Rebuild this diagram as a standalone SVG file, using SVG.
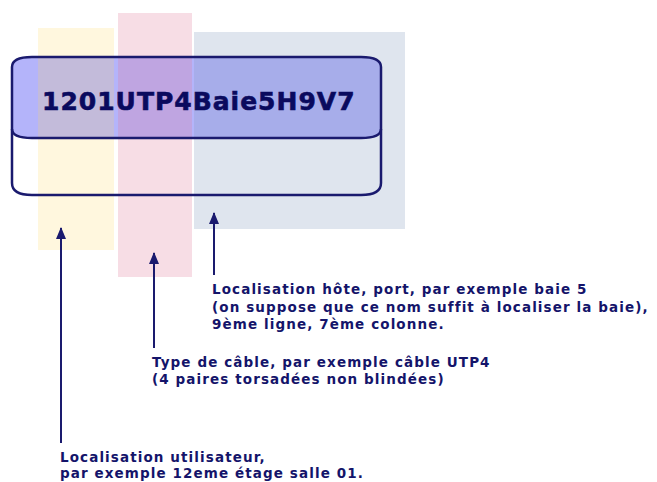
<svg xmlns="http://www.w3.org/2000/svg" width="657" height="482" viewBox="0 0 657 482">
<defs>
<style>
.lbl{font-family:"DejaVu Sans","Verdana",sans-serif;font-weight:bold;font-size:13.5px;letter-spacing:1.1px;fill:#14146a}
.conn{stroke:#1a1a6e;stroke-width:2;fill:none}
.outline{stroke:#1a1a6e;stroke-width:2.5;fill:none}
</style>
<marker id="arr" viewBox="0 0 12 10" refX="11" refY="5" markerWidth="12" markerHeight="10" markerUnits="userSpaceOnUse" orient="auto">
<path d="M0,0 L12,5 L0,10 Z" fill="#1a1a6e"/>
</marker>
</defs>
<rect width="657" height="482" fill="#ffffff"/>
<g id="card">
<path d="M32,57 H361 Q381,57 381,67 V183 Q381,195 361,195 H32 Q12,195 12,183 V67 Q12,57 32,57 Z" fill="#ffffff"/>
<path d="M32,57 H361 Q381,57 381,67 V129 Q381,138 361,138 H32 Q12,138 12,129 V67 Q12,57 32,57 Z" fill="#b4b4fa"/>
</g>
<g id="zone-user"><rect x="38" y="28" width="76" height="222" fill="#ffd75a" opacity="0.2"/></g>
<g id="zone-cable"><rect x="118" y="13" width="74" height="264" fill="#df7797" opacity="0.25"/></g>
<g id="zone-host"><rect x="194" y="32" width="211" height="197" fill="#7f97bb" opacity="0.25"/></g>
<g id="card-outline">
<path class="outline" d="M32,57 H361 Q381,57 381,67 V183 Q381,195 361,195 H32 Q12,195 12,183 V67 Q12,57 32,57 Z"/>
<path class="outline" d="M12,129 Q12,138 32,138 H361 Q381,138 381,129"/>
<text x="42" y="110" font-family="DejaVu Sans, Verdana, sans-serif" font-weight="bold" font-size="25" letter-spacing="1" fill="#0a0a5e" stroke="#0a0a5e" stroke-width="0.6">1201UTP4Baie5H9V7</text>
</g>
<g id="connectors">
<line class="conn" x1="61" y1="443" x2="61" y2="228" marker-end="url(#arr)"/>
<line class="conn" x1="154" y1="348" x2="154" y2="253" marker-end="url(#arr)"/>
<line class="conn" x1="214" y1="275" x2="214" y2="213" marker-end="url(#arr)"/>
</g>
<g id="label-host">
<text class="lbl" x="212" y="294">Localisation hôte, port, par exemple baie 5</text>
<text class="lbl" x="212" y="311.5">(on suppose que ce nom suffit à localiser la baie),</text>
<text class="lbl" x="212" y="329">9ème ligne, 7ème colonne.</text>
</g>
<g id="label-cable">
<text class="lbl" x="152" y="367">Type de câble, par exemple câble UTP4</text>
<text class="lbl" x="152" y="383.5">(4 paires torsadées non blindées)</text>
</g>
<g id="label-user">
<text class="lbl" x="60" y="462">Localisation utilisateur,</text>
<text class="lbl" x="60" y="478">par exemple 12eme étage salle 01.</text>
</g>
</svg>
